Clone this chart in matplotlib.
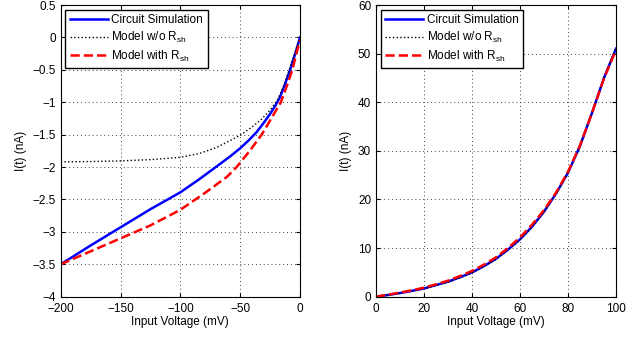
import numpy as np
import matplotlib.pyplot as plt

plt.rcParams['font.family'] = ['Liberation Sans', 'DejaVu Sans']
plt.rcParams['font.size'] = 8.5
plt.rcParams['mathtext.fontset'] = 'custom'
plt.rcParams['mathtext.rm'] = 'Liberation Sans'
plt.rcParams['mathtext.it'] = 'Liberation Sans:italic'

# left panel: negative input voltage
vNeg = [-200, -175, -150, -125, -100, -83.6, -66.7, -58, -50, -43, -36.2, -30, -25, -20.5, -16.7, -12.5, -8.3, -4, 0]
simNeg = [-3.5, -3.21, -2.93, -2.65, -2.39, -2.18, -1.95, -1.83, -1.71, -1.59, -1.46, -1.31, -1.18, -1.05, -0.92, -0.72, -0.5, -0.25, 0]

vNegNoR = [-200, -175, -150, -125, -100, -84, -70, -63.5, -50, -40, -32, -25, -19, -14, -9, -4, 0]
noRNeg = [-1.92, -1.915, -1.905, -1.885, -1.85, -1.79, -1.7, -1.64, -1.51, -1.38, -1.26, -1.12, -0.97, -0.77, -0.5, -0.23, 0]

vNegR = [-200, -175, -150, -125, -100, -78, -61, -53, -42, -32, -24, -16, -11, -6.4, -3, 0]
withRNeg = [-3.5, -3.3, -3.1, -2.9, -2.66, -2.38, -2.15, -2.0, -1.75, -1.5, -1.25, -1.0, -0.75, -0.5, -0.25, -0.04]

# right panel: positive input voltage
vPos = [0, 5, 10, 15, 20, 25, 30, 35, 40, 45, 50, 55, 60, 65, 70, 75, 80, 85, 90, 95, 100]
simPos = [0, 0.35, 0.75, 1.2, 1.7, 2.4, 3.1, 4.0, 5.0, 6.3, 7.8, 9.7, 11.8, 14.4, 17.5, 21.2, 25.5, 31, 37.8, 45.0, 51]
noRPos = [0, 0.33, 0.72, 1.15, 1.65, 2.3, 3.0, 3.9, 4.9, 6.2, 7.7, 9.6, 11.7, 14.3, 17.4, 21.1, 25.4, 31, 37.8, 45.1, 51.2]
withRPos = [0, 0.42, 0.85, 1.33, 1.85, 2.55, 3.3, 4.25, 5.3, 6.6, 8.1, 10.0, 12.2, 14.8, 17.8, 21.4, 25.7, 31.1, 37.8, 44.9, 50.8]

labels = ['Circuit Simulation', r'Model w/o R$_{\mathrm{sh}}$', r'Model with R$_{\mathrm{sh}}$']

fig = plt.figure(figsize=(6.41, 3.37), dpi=100)
ax1 = fig.add_axes([60.7/641, 1 - 296.7/337, 239.3/641, 291.7/337])
ax2 = fig.add_axes([376/641, 1 - 296.7/337, 240/641, 291.7/337])

def style(ax):
    ax.grid(True, linestyle=(0, (1, 3)), color='#444444', linewidth=0.7)
    ax.tick_params(direction='in', top=True, right=True, length=3)
    ax.tick_params(axis='x', pad=4.5)
    for s in ax.spines.values():
        s.set_linewidth(0.8)
    ax.set_xlabel('Input Voltage (mV)', labelpad=1)
    ax.set_ylabel('I(t) (nA)')
    ax.legend(loc='upper left', fancybox=False, edgecolor='black', framealpha=1,
              handlelength=3.2, handletextpad=0.3, borderaxespad=0.4,
              labelspacing=0.3)

ax1.plot(vNeg, simNeg, color='blue', linewidth=1.8, label=labels[0])
ax1.plot(vNegNoR, noRNeg, color='black', linestyle=':', linewidth=1.0, label=labels[1])
ax1.plot(vNegR, withRNeg, color='red', linestyle='--', linewidth=1.8, label=labels[2])
ax1.set_xlim(-200, 0)
ax1.set_ylim(-4, 0.5)
ax1.set_xticks(np.arange(-200, 1, 50))
ax1.set_yticks(np.arange(-4, 0.51, 0.5))
ax1.set_yticklabels(['\u22124', '\u22123.5', '\u22123', '\u22122.5', '\u22122', '\u22121.5', '\u22121', '\u22120.5', '0', '0.5'])
style(ax1)

ax2.plot(vPos, simPos, color='blue', linewidth=1.8, label=labels[0])
ax2.plot(vPos, noRPos, color='black', linestyle=':', linewidth=1.0, label=labels[1])
ax2.plot(vPos, withRPos, color='red', linestyle='--', linewidth=1.8, label=labels[2])
ax2.set_xlim(0, 100)
ax2.set_ylim(0, 60)
ax2.set_xticks(np.arange(0, 101, 20))
ax2.set_yticks(np.arange(0, 61, 10))
style(ax2)

fig.savefig('out.png', dpi=100)
